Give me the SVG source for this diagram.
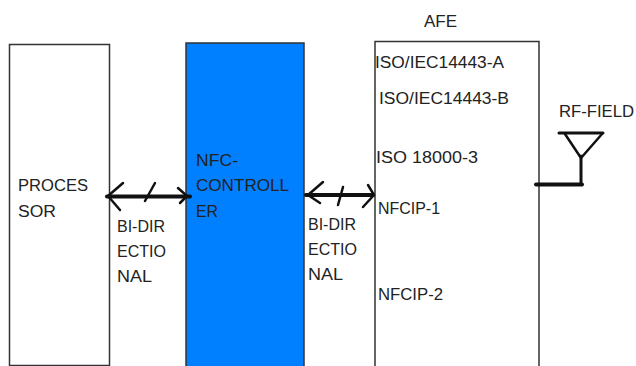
<svg xmlns="http://www.w3.org/2000/svg" width="636" height="366" viewBox="0 0 636 366">
<style>
text{font-family:"Liberation Sans",Arial,sans-serif;font-size:16px;fill:#222}
.box{stroke:#333;stroke-width:1.5}
.c{fill:none;stroke:#111;stroke-linecap:round;stroke-linejoin:round}
.m{stroke-width:4}.t{stroke-width:2.5}
</style>
<rect width="636" height="366" fill="#fff"/>
<g id="processor">
<rect class="box" x="9.5" y="44.5" width="100" height="321" fill="#fff"/>
<text x="18" y="191" textLength="70" lengthAdjust="spacingAndGlyphs">PROCES</text><text x="18" y="217" textLength="38" lengthAdjust="spacingAndGlyphs">SOR</text>
</g>
<g id="controller">
<rect class="box" x="186" y="43" width="118" height="324" fill="#007fff"/>
<text x="196" y="166" textLength="42" lengthAdjust="spacingAndGlyphs">NFC-</text><text x="196" y="191" textLength="93" lengthAdjust="spacingAndGlyphs">CONTROLL</text><text x="196" y="217" textLength="22" lengthAdjust="spacingAndGlyphs">ER</text>
</g>
<g id="afe">
<rect class="box" x="375" y="41.5" width="164" height="326" fill="#fff"/>
<text x="424" y="27" textLength="33" lengthAdjust="spacingAndGlyphs">AFE</text>
<text x="375" y="68" textLength="129" lengthAdjust="spacingAndGlyphs">ISO/IEC14443-A</text>
<text x="379" y="104" textLength="130" lengthAdjust="spacingAndGlyphs">ISO/IEC14443-B</text>
<text x="376" y="163" textLength="102" lengthAdjust="spacingAndGlyphs">ISO 18000-3</text>
<text x="378" y="214" textLength="62" lengthAdjust="spacingAndGlyphs">NFCIP-1</text>
<text x="378" y="300" textLength="65" lengthAdjust="spacingAndGlyphs">NFCIP-2</text>
</g>
<g id="antenna">
<text x="559" y="117" textLength="75" lengthAdjust="spacingAndGlyphs">RF-FIELD</text>
<path class="c m" style="stroke-width:3" d="M559 133H603"/>
<path class="c t" d="M565 134L581 158L602 134"/>
<path class="c" style="stroke-width:3" d="M581 156V184"/>
<path class="c m" d="M536 184.500H582"/>
</g>
<g id="connectors">
<path class="c m" d="M107 196.500H190"/>
<path class="c t" d="M123 183L108 196L120 210M155 183L145 201M178 188L187 196L180 203"/>
<path class="c m" d="M306 195H373"/>
<path class="c t" d="M323 182L308 195L320 203M343 187L338 205M368 185L374 195L363 207"/>
<text x="117" y="232" textLength="48" lengthAdjust="spacingAndGlyphs">BI-DIR</text><text x="117" y="257" textLength="49" lengthAdjust="spacingAndGlyphs">ECTIO</text><text x="117" y="282" textLength="35" lengthAdjust="spacingAndGlyphs">NAL</text>
<text x="308" y="230" textLength="48" lengthAdjust="spacingAndGlyphs">BI-DIR</text><text x="308" y="255" textLength="49" lengthAdjust="spacingAndGlyphs">ECTIO</text><text x="308" y="280" textLength="35" lengthAdjust="spacingAndGlyphs">NAL</text>
</g>
</svg>
